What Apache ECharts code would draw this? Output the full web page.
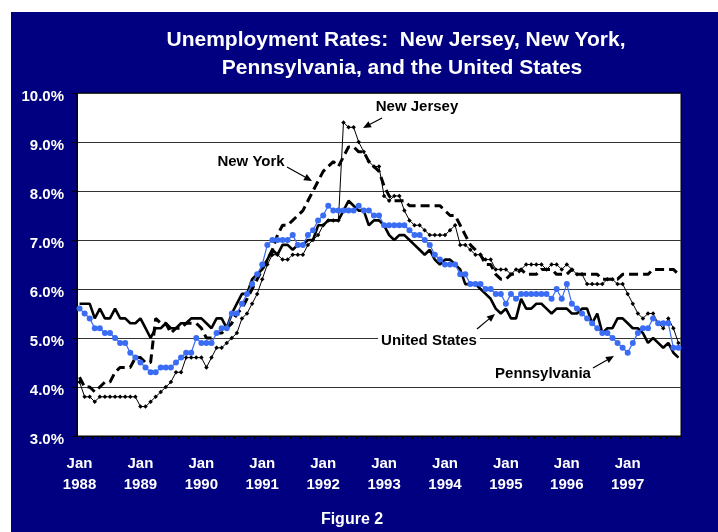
<!DOCTYPE html>
<html><head><meta charset="utf-8">
<script src="https://cdn.jsdelivr.net/npm/echarts@6/dist/echarts.min.js"></script>
<style>
html,body{margin:0;padding:0;background:#fff;}
#bg{position:absolute;left:11px;top:12px;width:707px;height:520px;background:#000080;}
#chart{position:absolute;left:0;top:0;width:718px;height:532px;}
</style></head><body>
<div id="bg"></div><div id="chart"></div>
<script>
// ---- data ----
const years = [1988, 1989, 1990, 1991, 1992, 1993, 1994, 1995, 1996, 1997];
const monthNames = ['Jan','Feb','Mar','Apr','May','Jun','Jul','Aug','Sep','Oct','Nov','Dec'];
const lastMonthCount = 11; // data run Jan 1988 - Nov 1997
const yTicks = [3, 4, 5, 6, 7, 8, 9, 10];

const newJersey = [
  4.1,3.8,3.8,3.7,3.8,3.8,3.8,3.8,3.8,3.8,3.8,3.8,
  3.6,3.6,3.7,3.8,3.9,4.0,4.1,4.3,4.3,4.6,4.6,4.6,
  4.6,4.4,4.6,4.8,4.8,4.9,5.0,5.1,5.4,5.5,5.7,5.9,
  6.2,6.5,6.7,6.7,6.6,6.6,6.7,6.7,6.7,6.9,7.0,7.1,
  7.3,7.4,7.4,7.4,9.4,9.3,9.3,9.0,8.8,8.6,8.5,8.5,
  7.9,7.8,7.9,7.9,7.6,7.4,7.3,7.3,7.2,7.1,7.1,7.1,
  7.1,7.2,7.3,6.9,6.9,6.8,6.7,6.7,6.6,6.6,6.4,6.4,
  6.4,6.3,6.4,6.4,6.5,6.5,6.5,6.5,6.4,6.5,6.5,6.4,
  6.5,6.4,6.3,6.3,6.1,6.1,6.1,6.1,6.2,6.2,6.1,6.1,
  5.9,5.7,5.5,5.4,5.5,5.5,5.3,5.2,5.4,5.2,4.9
];
const newYork = [
  4.2,4.0,4.0,3.9,4.0,4.1,4.1,4.3,4.4,4.4,4.4,4.6,
  4.6,4.5,4.5,5.4,5.3,5.3,5.1,5.2,5.2,5.3,5.3,5.3,
  5.2,5.0,5.0,5.1,5.1,5.2,5.3,5.5,5.6,5.8,6.0,6.2,
  6.4,6.6,6.8,7.1,7.3,7.3,7.4,7.5,7.6,7.8,8.0,8.2,
  8.4,8.5,8.6,8.5,8.7,8.9,8.9,8.8,8.8,8.6,8.5,8.4,
  8.1,7.9,7.8,7.8,7.8,7.7,7.7,7.7,7.7,7.7,7.7,7.7,
  7.6,7.5,7.5,7.3,7.1,6.9,6.8,6.7,6.5,6.5,6.3,6.2,
  6.2,6.3,6.3,6.4,6.3,6.3,6.3,6.4,6.4,6.4,6.3,6.3,
  6.3,6.4,6.3,6.3,6.3,6.3,6.3,6.2,6.2,6.2,6.2,6.3,
  6.3,6.3,6.3,6.3,6.3,6.4,6.4,6.4,6.4,6.4,6.3
];
const pennsylvania = [
  5.6,5.5,5.4,5.2,5.2,5.1,5.1,5.0,4.9,4.9,4.7,4.6,
  4.5,4.4,4.3,4.3,4.4,4.4,4.4,4.5,4.6,4.7,4.7,5.0,
  4.9,4.9,4.9,5.1,5.2,5.2,5.5,5.5,5.7,5.9,6.1,6.3,
  6.5,6.9,7.0,7.0,7.0,7.0,7.1,6.9,6.9,7.1,7.2,7.4,
  7.5,7.7,7.6,7.6,7.6,7.6,7.6,7.7,7.6,7.6,7.5,7.5,
  7.3,7.3,7.3,7.3,7.3,7.2,7.1,7.1,7.0,6.9,6.7,6.6,
  6.5,6.5,6.5,6.3,6.3,6.1,6.1,6.1,6.0,6.0,5.9,5.9,
  5.7,5.9,5.8,5.9,5.9,5.9,5.9,5.9,5.9,5.8,6.0,5.8,
  6.1,5.7,5.6,5.5,5.4,5.3,5.2,5.1,5.1,5.0,4.9,4.8,
  4.7,4.9,5.1,5.2,5.2,5.4,5.3,5.3,5.3,4.8,4.8
];
const unitedStates = [
  5.7,5.7,5.7,5.4,5.6,5.4,5.4,5.6,5.4,5.4,5.3,5.3,
  5.4,5.2,5.0,5.2,5.2,5.3,5.2,5.2,5.3,5.3,5.4,5.4,
  5.4,5.3,5.2,5.4,5.4,5.2,5.5,5.7,5.9,5.9,6.2,6.3,
  6.4,6.6,6.8,6.7,6.9,6.9,6.8,6.9,6.9,7.0,7.0,7.3,
  7.3,7.4,7.4,7.4,7.6,7.8,7.7,7.6,7.6,7.3,7.4,7.4,
  7.3,7.1,7.0,7.1,7.1,7.0,6.9,6.8,6.7,6.8,6.6,6.5,
  6.6,6.6,6.5,6.4,6.1,6.1,6.1,6.0,5.9,5.8,5.6,5.5,
  5.6,5.4,5.4,5.8,5.6,5.6,5.7,5.7,5.6,5.5,5.6,5.6,
  5.6,5.5,5.5,5.6,5.6,5.3,5.5,5.1,5.2,5.2,5.4,5.4,
  5.3,5.2,5.2,5.1,4.9,5.0,4.9,4.8,4.9,4.7,4.6
];

const categories = [];
years.forEach((y, yi) => {
  const n = yi === years.length - 1 ? lastMonthCount : 12;
  for (let m = 0; m < n; m++) categories.push(monthNames[m] + ' ' + y);
});

// ---- chart ----
const FONT = '"Liberation Sans", Arial, Helvetica, sans-serif';
const chart = echarts.init(document.getElementById('chart'), null, {renderer: 'canvas'});

function arrow(x1, y1, x2, y2) {
  const a = Math.atan2(y2 - y1, x2 - x1);
  const L = 8, W = 3.5;
  const bx = x2 - L * Math.cos(a), by = y2 - L * Math.sin(a);
  return [
    {type: 'line', z: 100, shape: {x1: x1, y1: y1, x2: bx, y2: by}, style: {stroke: '#000', lineWidth: 1.2}},
    {type: 'polygon', z: 100, shape: {points: [[x2, y2], [bx + W * Math.sin(a), by - W * Math.cos(a)], [bx - W * Math.sin(a), by + W * Math.cos(a)]]}, style: {fill: '#000'}}
  ];
}
function label(txt, x, y, opts) {
  return {
    type: 'text', z: 100, x: x, y: y,
    style: Object.assign({text: txt, fill: '#000', font: 'bold 15px ' + FONT, textAlign: 'center', textVerticalAlign: 'middle'}, opts || {})
  };
}
function whiteText(txt, x, y, size) {
  return {type: 'text', z: 100, x: x, y: y,
    style: {text: txt, fill: '#fff', font: 'bold ' + size + 'px ' + FONT, textAlign: 'center', textVerticalAlign: 'middle'}};
}

const graphics = [
  whiteText('Unemployment Rates:  New Jersey, New York,', 396, 40, 21),
  whiteText('Pennsylvania, and the United States', 402, 68, 21),
  whiteText('Figure 2', 352, 520, 16),
  label('New Jersey', 417, 107),
  label('New York', 251, 162),
  label('United States', 429, 341, {backgroundColor: '#fff', padding: [1, 3]}),
  label('Pennsylvania', 543, 374),
  ...arrow(382, 118, 363, 128),
  ...arrow(287, 167, 312, 181),
  ...arrow(477, 329, 495, 314),
  ...arrow(593, 368, 614, 356)
];

chart.setOption({
  animation: false,
  backgroundColor: 'transparent',
  grid: {left: 77, right: 37, top: 93, bottom: 96, show: true, backgroundColor: '#fff', borderColor: '#000', borderWidth: 1},
  xAxis: {
    type: 'category', data: categories, boundaryGap: true,
    axisLine: {show: true, lineStyle: {color: '#000', width: 1}},
    axisTick: {show: true, interval: 0, length: 3, lineStyle: {color: '#000'}},
    axisLabel: {
      interval: (i) => i % 12 === 0,
      formatter: (v) => v.replace(' ', '\n'),
      color: '#fff', fontWeight: 'bold', fontSize: 15, fontFamily: FONT, lineHeight: 21, margin: 17
    },
    splitLine: {show: false}
  },
  yAxis: {
    type: 'value', min: yTicks[0], max: yTicks[yTicks.length - 1], interval: 1,
    axisLine: {show: true, lineStyle: {color: '#000'}},
    axisTick: {show: true, length: 5, lineStyle: {color: '#000'}},
    axisLabel: {formatter: (v) => v.toFixed(1) + '%', color: '#fff', fontWeight: 'bold', fontSize: 15, fontFamily: FONT, margin: 13, verticalAlign: 'top', lineHeight: 8},
    splitLine: {show: true, lineStyle: {color: '#333', width: 1}}
  },
  series: [
    {name: 'United States', type: 'line', data: unitedStates, symbol: 'none', lineStyle: {color: '#000', width: 2.6}, z: 3},
    {name: 'New York', type: 'line', data: newYork, symbol: 'none', lineStyle: {color: '#000', width: 3, type: [9, 5]}, z: 4},
    {name: 'New Jersey', type: 'line', data: newJersey, symbol: 'diamond', symbolSize: 4.5, showAllSymbol: true,
      itemStyle: {color: '#000'}, lineStyle: {color: '#000', width: 1}, z: 5},
    {name: 'Pennsylvania', type: 'line', data: pennsylvania, symbol: 'circle', symbolSize: 6, showAllSymbol: true,
      itemStyle: {color: '#3a6cf4'}, lineStyle: {color: '#3a6cf4', width: 1.2}, z: 6}
  ],
  graphic: graphics
});
</script>
</body></html>
